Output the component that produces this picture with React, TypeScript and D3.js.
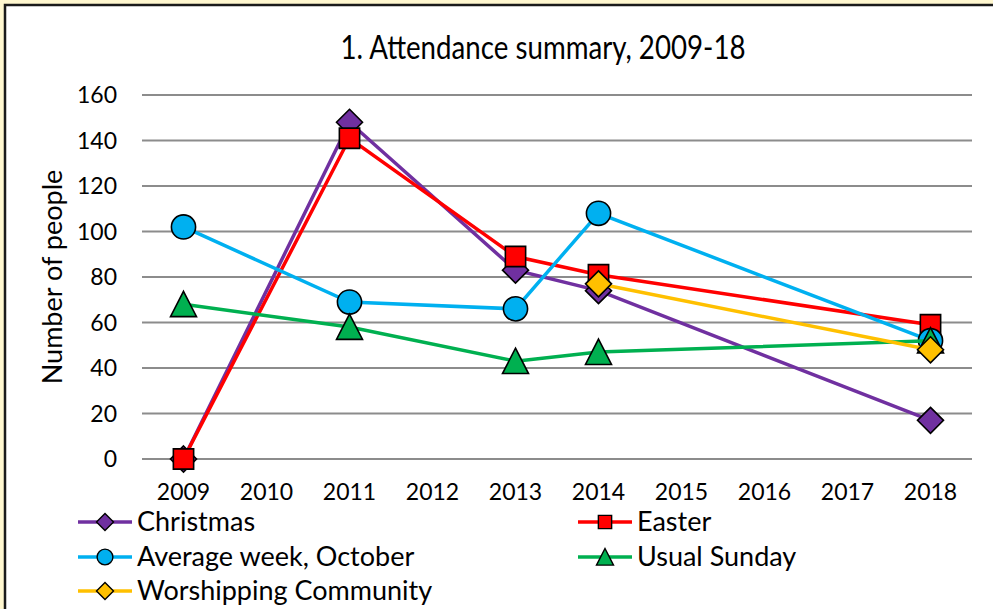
import React, { useEffect, useRef } from 'react';
import * as d3 from 'd3';

const years = ['2009', '2010', '2011', '2012', '2013', '2014', '2015', '2016', '2017', '2018'];
const christmas = [0, null, 148, null, 83, 74, null, null, null, 17];
const easter = [0, null, 141, null, 89, 81, null, null, null, 59];
const averageWeek = [102, null, 69, null, 66, 108, null, null, null, 52];
const usualSunday = [68, null, 58, null, 43, 47, null, null, null, 52];
const worshipping = [null, null, null, null, null, 77, null, null, null, 48];
const yTicks = [0, 20, 40, 60, 80, 100, 120, 140, 160];

const series = [
  { name: 'Christmas', values: christmas, color: '#7030A0', marker: 'diamond' },
  { name: 'Easter', values: easter, color: '#FF0000', marker: 'square' },
  { name: 'Average week, October', values: averageWeek, color: '#00B0F0', marker: 'circle' },
  { name: 'Usual Sunday', values: usualSunday, color: '#00B050', marker: 'triangle' },
  { name: 'Worshipping Community', values: worshipping, color: '#FFC000', marker: 'diamond' },
];

const W = 993, H = 609;
const plot = { left: 142, right: 972, top: 95, bottom: 459 };
const FONT = 'Lato, "Open Sans", sans-serif';

// marker outline path, centred on 0,0
function markerPath(kind: string, s: number) {
  if (kind === 'diamond') return `M0,${-s}L${s},0L0,${s}L${-s},0Z`;
  if (kind === 'square') return `M${-s * 0.78},${-s * 0.78}H${s * 0.78}V${s * 0.78}H${-s * 0.78}Z`;
  if (kind === 'triangle') return `M0,${-s}L${s},${s * 0.95}L${-s},${s * 0.95}Z`;
  return d3.arc()({ innerRadius: 0, outerRadius: s * 0.93, startAngle: 0, endAngle: 2 * Math.PI }) as string;
}

export default function App() {
  const ref = useRef<SVGSVGElement>(null);

  useEffect(() => {
    const svg = d3.select(ref.current);
    svg.selectAll('*').remove();

    // outer frame
    svg.append('rect').attr('width', W).attr('height', H).attr('fill', '#FFF7CF');
    svg.append('rect')
      .attr('x', 5).attr('y', 5).attr('width', W + 10).attr('height', H + 10)
      .attr('fill', '#fff').attr('stroke', '#1a1a1a').attr('stroke-width', 2.5);

    const x = d3.scaleBand().domain(years).range([plot.left, plot.right]);
    const cx = (yr: string) => (x(yr) as number) + x.bandwidth() / 2;
    const y = d3.scaleLinear().domain([0, 160]).range([plot.bottom, plot.top]);

    // title
    svg.append('text')
      .attr('x', 543).attr('y', 59)
      .attr('text-anchor', 'middle')
      .attr('font-family', FONT).attr('font-size', 33)
      .attr('textLength', 405).attr('lengthAdjust', 'spacingAndGlyphs')
      .text('1. Attendance summary, 2009-18');

    // gridlines
    svg.append('g').selectAll('line')
      .data(yTicks).enter().append('line')
      .attr('x1', plot.left).attr('x2', plot.right)
      .attr('y1', d => y(d)).attr('y2', d => y(d))
      .attr('stroke', '#8C8C8C').attr('stroke-width', 2);

    // y tick labels
    svg.append('g').selectAll('text')
      .data(yTicks).enter().append('text')
      .attr('x', 117).attr('y', d => y(d))
      .attr('dy', '0.35em')
      .attr('text-anchor', 'end')
      .attr('font-family', FONT).attr('font-size', 23)
      .text(d => d);

    // x tick labels
    svg.append('g').selectAll('text')
      .data(years).enter().append('text')
      .attr('x', d => cx(d)).attr('y', 500)
      .attr('text-anchor', 'middle')
      .attr('font-family', FONT).attr('font-size', 23)
      .text(d => d);

    // y title
    svg.append('text')
      .attr('transform', 'translate(62,277) rotate(-90)')
      .attr('text-anchor', 'middle')
      .attr('font-family', FONT).attr('font-size', 27)
      .text('Number of people');

    const line = d3.line<any>().x(d => cx(d.year)).y(d => y(d.value));

    series.forEach(s => {
      const pts = years
        .map((yr, i) => ({ year: yr, value: s.values[i] }))
        .filter(p => p.value !== null);
      const g = svg.append('g');
      g.append('path')
        .attr('d', line(pts))
        .attr('fill', 'none')
        .attr('stroke', s.color)
        .attr('stroke-width', 3.5);
      g.selectAll('path.m')
        .data(pts).enter().append('path')
        .attr('class', 'm')
        .attr('transform', d => `translate(${cx(d.year)},${y(d.value)})`)
        .attr('d', markerPath(s.marker, 13))
        .attr('fill', s.color)
        .attr('stroke', '#000').attr('stroke-width', 1.6);
    });

    // legend
    const legendPos = [
      [78, 522], [578, 522],
      [78, 557], [578, 557],
      [78, 591],
    ];
    series.forEach((s, i) => {
      const [lx, ly] = legendPos[i];
      const g = svg.append('g').attr('transform', `translate(${lx},${ly})`);
      g.append('line').attr('x1', 0).attr('x2', 54).attr('y1', 0).attr('y2', 0)
        .attr('stroke', s.color).attr('stroke-width', 3.5);
      g.append('path')
        .attr('transform', 'translate(27,0)')
        .attr('d', markerPath(s.marker, 8.5))
        .attr('fill', s.color)
        .attr('stroke', '#000').attr('stroke-width', 1.4);
      g.append('text')
        .attr('x', 59).attr('y', 0).attr('dy', '0.35em')
        .attr('font-family', FONT).attr('font-size', 27)
        .text(s.name);
    });
  }, []);

  return (
    <svg ref={ref} width={W} height={H}
      style={{ position: 'absolute', left: 0, top: 0, display: 'block' }} />
  );
}
